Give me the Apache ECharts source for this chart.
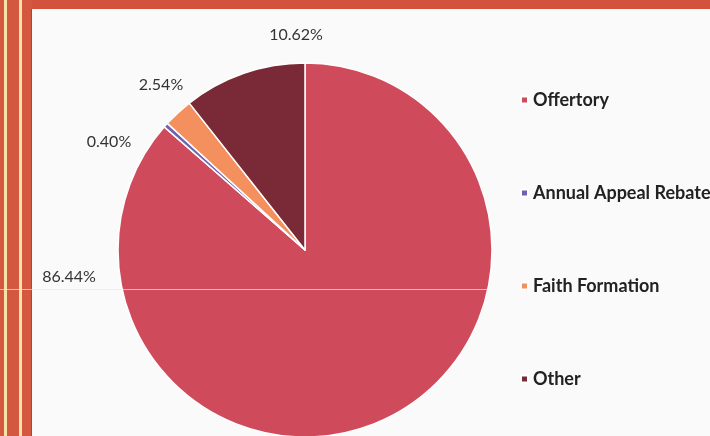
<!DOCTYPE html>
<html>
<head>
<meta charset="utf-8">
<script src="https://cdn.jsdelivr.net/npm/echarts@6/dist/echarts.min.js"></script>
<style>
  html, body { margin: 0; padding: 0; background: #fafafb; }
  #container { width: 710px; height: 436px; }
</style>
</head>
<body>
<div id="container"></div>
<script>
var categories = ['Offertory', 'Annual Appeal Rebate', 'Faith Formation', 'Other'];
var shares = [86.44, 0.40, 2.54, 10.62];
var sliceColors = ['#cf4b5c', '#6f62b4', '#f48f5e', '#7a2a36'];

// where Excel dropped the percentage labels (label centre)
var labelSpots = [[69, 277], [109, 142], [161, 85], [296, 35]];

var dom = document.getElementById('container');
var myChart = echarts.init(dom, null, { renderer: 'canvas' });

var option = {
    backgroundColor: '#fafafb',
    animation: false,
    graphic: [
        { type: 'rect', shape: { x: 0, y: 0, width: 710, height: 9 }, style: { fill: '#d2523e' } },
        { type: 'rect', shape: { x: 0, y: 0, width: 32, height: 436 }, style: { fill: '#d4583f' } },
        { type: 'rect', shape: { x: 4, y: 0, width: 3, height: 436 }, style: { fill: '#f6e2a6' } },
        { type: 'rect', shape: { x: 19, y: 0, width: 3, height: 436 }, style: { fill: '#f6e2a6' } },
        { type: 'rect', shape: { x: 31, y: 9, width: 1, height: 427 }, style: { fill: '#b8402e' } },
        { type: 'line', z: 100, shape: { x1: 0, y1: 289.5, x2: 488, y2: 289.5 },
          style: { stroke: 'rgba(255,232,190,0.7)', lineWidth: 1 } }
    ],
    legend: {
        orient: 'vertical',
        left: 515,
        top: 85,
        itemWidth: 7,
        itemHeight: 7,
        itemGap: 73,
        icon: 'rect',
        data: categories,
        textStyle: {
            fontFamily: 'Lato',
            fontWeight: 'bold',
            fontSize: 18,
            lineHeight: 20,
            color: '#222'
        }
    },
    series: [
        {
            type: 'pie',
            center: [305, 250],
            radius: 187,
            startAngle: 90,
            clockwise: true,
            silent: true,
            itemStyle: { borderColor: '#ffffff', borderWidth: 1.5 },
            label: {
                show: true,
                position: 'outside',
                formatter: function (p) { return p.value.toFixed(2) + '%'; },
                fontFamily: 'Lato',
                fontSize: 16,
                color: '#333'
            },
            labelLine: { show: false },
            labelLayout: function (p) {
                var s = labelSpots[p.dataIndex];
                return { x: s[0], y: s[1], align: 'center', verticalAlign: 'middle' };
            },
            data: categories.map(function (c, i) {
                return { name: c, value: shares[i], itemStyle: { color: sliceColors[i] } };
            })
        }
    ]
};

myChart.setOption(option);
window.addEventListener('resize', myChart.resize);
</script>
</body>
</html>
